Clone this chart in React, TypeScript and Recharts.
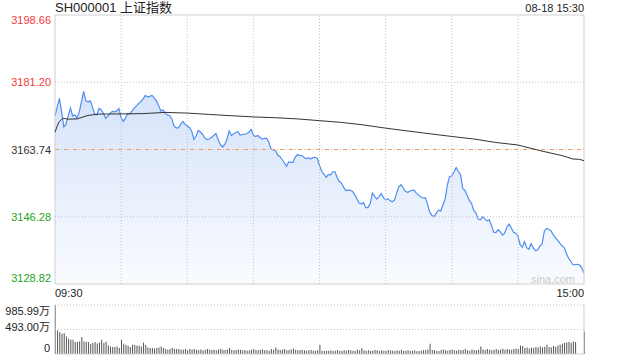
import {
  ComposedChart,
  Area,
  Line,
  Bar,
  XAxis,
  YAxis,
  ReferenceLine,
  ReferenceArea,
} from "recharts"

const PRE_CLOSE = 3163.74
const PRICE_TICKS = [3128.82, 3146.28, 3163.74, 3181.2, 3198.66]
const VOLUME_TICKS = [0, 493.0, 985.99]
const TIME_LABELS = ["09:30", "15:00"]
const GRID_MINUTES = [30, 60, 90, 120, 150, 180, 210]

// one close per minute, 09:30 .. 11:30 / 13:00 .. 15:00
const PRICES = [
  3172.46, 3174.8, 3177.01, 3173.5, 3169.59, 3170.38, 3172.46, 3174.54, 3172.46, 3172.72,
  3171.94, 3173.5, 3176.1, 3178.83, 3176.36, 3176.1, 3176.36, 3174.8, 3172.98, 3172.72,
  3174.41, 3174.02, 3173.11, 3171.81, 3172.46, 3173.11, 3173.63, 3173.5, 3173.76, 3174.41,
  3171.94, 3171.03, 3171.94, 3173.11, 3172.98, 3173.76, 3174.54, 3175.06, 3175.71, 3176.23,
  3176.88, 3177.79, 3177.4, 3177.53, 3177.79, 3177.14, 3176.36, 3175.19, 3173.76, 3174.02,
  3173.11, 3172.72, 3172.59, 3171.68, 3169.85, 3169.33, 3169.33, 3170.25, 3171.03, 3170.25,
  3169.85, 3169.46, 3168.55, 3166.34, 3167.25, 3168.68, 3168.29, 3167.64, 3166.73, 3166.34,
  3166.47, 3166.86, 3167.38, 3167.9, 3166.34, 3165.04, 3164.39, 3165.04, 3166.34, 3168.55,
  3167.38, 3167.77, 3168.16, 3168.42, 3167.51, 3167.64, 3167.72, 3167.82, 3168.29, 3168.94,
  3167.51, 3167.12, 3167.38, 3166.86, 3166.47, 3166.65, 3166.65, 3165.69, 3163.87, 3163.61,
  3163.48, 3162.31, 3161.92, 3161.14, 3160.36, 3159.32, 3160.49, 3160.41, 3160.41, 3161.79,
  3162.44, 3162.18, 3162.18, 3161.66, 3161.4, 3161.58, 3161.27, 3161.63, 3161.71, 3161.45,
  3159.58, 3158.09, 3157.37, 3156.51, 3157.24, 3157.1, 3157.96, 3157.96, 3156.45, 3155.41,
  3155.02, 3153.85, 3153.1, 3153.2, 3153.15, 3152.86, 3152.03, 3150.86, 3149.82, 3149.64,
  3149.95, 3148.65, 3148.65, 3149.69, 3152.42, 3151.56, 3150.86, 3151.51, 3152.34, 3151.25,
  3150.68, 3150.99, 3150.47, 3150.16, 3150.6, 3152.42, 3154.09, 3154.63, 3153.64, 3152.89,
  3152.6, 3152.89, 3153.2, 3153.12, 3152.34, 3151.9, 3151.38, 3151.15, 3151.25, 3149.56,
  3147.48, 3146.62, 3146.31, 3147.22, 3148.05, 3147.74, 3149.38, 3150.86, 3154.5, 3156.69,
  3156.9, 3157.89, 3159.06, 3158.02, 3157.24, 3153.59, 3153.12, 3151.77, 3150.47, 3149.69,
  3147.87, 3147.22, 3145.66, 3145.47, 3146.25, 3145.79, 3145.21, 3145.47, 3144.09, 3142.27,
  3142.14, 3142.92, 3142.4, 3141.49, 3142.01, 3143.57, 3144.36, 3143.44, 3142.27, 3142.01,
  3141.31, 3139.02, 3138.37, 3139.8, 3138.24, 3137.85, 3139.28, 3138.21, 3137.43, 3137.72,
  3138.63, 3139.28, 3142.53, 3143.24, 3143.05, 3142.66, 3141.62, 3140.84, 3140.19, 3139.41,
  3138.76, 3138.27, 3136.73, 3135.51, 3134.73, 3133.82, 3133.87, 3133.95, 3133.74, 3133.04,
  3131.61,
]

// average price line, read at these minutes
const AVG_MINUTES = [
  0, 1, 2, 3, 4, 6, 10, 15, 20, 30, 40, 50, 60, 70, 80, 90, 100, 110, 120, 130, 140, 150,
  160, 170, 180, 190, 200, 210, 220, 230, 235, 238, 240,
]
const AVG_PRICES = [
  3168.22, 3169.85, 3171.03, 3171.55, 3171.81, 3171.6, 3171.68, 3172.59, 3172.93, 3172.98,
  3173.06, 3173.37, 3173.19, 3172.85, 3172.51, 3172.2, 3171.99, 3171.68, 3171.23, 3170.77,
  3170.12, 3169.28, 3168.55, 3167.83, 3167.12, 3166.47, 3165.56, 3164.91, 3163.45, 3162.15,
  3161.27, 3161.19, 3160.83,
]

// volume per minute, in 万
const VOLUMES = [
  985.99, 473, 440, 406, 420, 353, 306, 286, 286, 240,
  240, 253, 340, 253, 246, 240, 200, 220, 240, 213,
  233, 286, 220, 246, 173, 153, 140, 140, 153, 120,
  286, 206, 180, 166, 140, 186, 180, 173, 166, 153,
  233, 180, 133, 120, 120, 113, 120, 133, 153, 120,
  100, 86, 100, 120, 100, 100, 100, 86, 93, 106,
  73, 100, 93, 100, 86, 80, 93, 73, 86, 100,
  93, 80, 86, 73, 93, 106, 86, 80, 93, 120,
  86, 73, 80, 93, 86, 73, 80, 66, 73, 86,
  100, 80, 73, 86, 93, 80, 73, 66, 100, 86,
  133, 93, 80, 86, 100, 73, 80, 93, 113, 86,
  73, 80, 86, 73, 66, 73, 80, 66, 60, 73,
  186, 60, 66, 60, 66, 73, 60, 66, 80, 66,
  60, 73, 66, 80, 73, 66, 60, 93, 73, 120,
  73, 66, 73, 60, 66, 80, 73, 60, 73, 66,
  60, 80, 73, 66, 60, 73, 66, 86, 60, 66,
  73, 60, 66, 73, 53, 60, 66, 73, 80, 93,
  206, 80, 73, 66, 60, 80, 93, 73, 66, 80,
  93, 73, 66, 86, 73, 80, 100, 73, 66, 93,
  80, 73, 86, 153, 93, 80, 100, 86, 73, 86,
  100, 80, 93, 106, 86, 100, 93, 86, 100, 113,
  100, 173, 160, 120, 133, 113, 133, 120, 140, 133,
  153, 133, 146, 186, 140, 133, 160, 146, 173, 186,
  206, 220, 233, 240, 226, 253, 240, 0, 0, 0,
  453,
]

const RED = "#f23a3a"
const GREEN = "#21a521"
const DARK = "#333"
const GRID = "#c4c4c4"
const BORDER = "#cfcfcf"

const rows = PRICES.map((price, m) => {
  const k = AVG_MINUTES.indexOf(m)
  return { m, price, avg: k >= 0 ? AVG_PRICES[k] : null, vol: VOLUMES[m] }
})

const colorFor = (v: number) =>
  v > PRE_CLOSE + 0.001 ? RED : v < PRE_CLOSE - 0.001 ? GREEN : DARK

// top and bottom labels sit inside the plot edge
const edgeShift = (v: number) =>
  v === PRICE_TICKS[PRICE_TICKS.length - 1] ? 5 : v === PRICE_TICKS[0] ? -6 : 0

function PriceTick({ x, y, payload }: any) {
  const v = payload.value as number
  return (
    <text x={x} y={y + edgeShift(v)} textAnchor="end" dominantBaseline="central" fontSize={11} fill={colorFor(v)}>
      {v.toFixed(2)}
    </text>
  )
}

function PctTick({ x, y, payload }: any) {
  const v = payload.value as number
  const pct = (v / PRE_CLOSE - 1) * 100
  const label = (pct > 0.0001 ? "+" : "") + (Math.abs(pct) < 0.0001 ? "0.00" : pct.toFixed(2)) + "%"
  return (
    <text x={x} y={y + edgeShift(v)} textAnchor="start" dominantBaseline="central" fontSize={11} fill={colorFor(v)}>
      {label}
    </text>
  )
}

function TimeTick({ x, y, payload }: any) {
  const first = payload.value === 0
  return (
    <text x={x} y={y + 9} textAnchor={first ? "start" : "end"} dominantBaseline="central" fontSize={11} fill="#222">
      {first ? TIME_LABELS[0] : TIME_LABELS[1]}
    </text>
  )
}

function VolTick({ x, y, payload }: any) {
  const v = payload.value as number
  const dy = v === 0 ? -6.5 : v === VOLUME_TICKS[2] ? 6 : -2
  return (
    <text x={x} y={y + dy} textAnchor="end" dominantBaseline="central" fontSize={11} fill="#222">
      {v === 0 ? "0" : v.toFixed(2) + "万"}
    </text>
  )
}

export default function App() {
  return (
    <div
      style={{
        position: "absolute",
        left: 0,
        top: 0,
        width: 640,
        height: 360,
        background: "#fff",
        fontFamily: "'Liberation Sans', Arial, 'Noto Sans CJK SC', sans-serif",
        color: "#222",
      }}
    >
      <div style={{ position: "absolute", left: 55, top: 0, fontSize: 13, lineHeight: "15px" }}>
        SH000001 上证指数
      </div>
      <div style={{ position: "absolute", right: 56, top: 1, fontSize: 11, lineHeight: "14px" }}>
        08-18 15:30
      </div>

      <div style={{ position: "absolute", left: 0, top: 0 }}>
        <ComposedChart width={640} height={300} data={rows} margin={{ top: 15, right: 0, left: 0, bottom: 0 }}>
          <defs>
            <linearGradient id="priceFill" x1="0" y1="0" x2="0" y2="1">
              <stop offset="0%" stopColor="#d6e3fa" />
              <stop offset="100%" stopColor="#f9fbff" />
            </linearGradient>
          </defs>
          <XAxis
            dataKey="m"
            type="number"
            domain={[0, 240]}
            ticks={[0, 240]}
            height={16}
            axisLine={false}
            tickLine={false}
            tickSize={0}
            tickMargin={0}
            tick={<TimeTick />}
          />
          <YAxis
            domain={[PRICE_TICKS[0], PRICE_TICKS[4]]}
            ticks={PRICE_TICKS}
            interval={0}
            width={55}
            axisLine={false}
            tickLine={false}
            tickSize={0}
            tickMargin={4}
            tick={<PriceTick />}
          />
          <YAxis
            yAxisId="pct"
            orientation="right"
            domain={[PRICE_TICKS[0], PRICE_TICKS[4]]}
            ticks={PRICE_TICKS}
            interval={0}
            width={56}
            axisLine={false}
            tickLine={false}
            tickSize={0}
            tickMargin={6}
            tick={<PctTick />}
          />
          <Area
            type="linear"
            dataKey="price"
            stroke="#4f8ef0"
            strokeWidth={1.2}
            fill="url(#priceFill)"
            fillOpacity={1}
            dot={false}
            activeDot={false}
            isAnimationActive={false}
          />
          {GRID_MINUTES.map((m) => (
            <ReferenceLine key={m} x={m} stroke={GRID} strokeDasharray="1 2" />
          ))}
          <ReferenceLine y={PRICE_TICKS[3]} stroke={GRID} strokeDasharray="1 2" />
          <ReferenceLine y={PRICE_TICKS[1]} stroke={GRID} strokeDasharray="1 2" />
          <ReferenceLine y={PRE_CLOSE} stroke="#bbb" strokeDasharray="1 2" />
          <ReferenceLine y={PRE_CLOSE} stroke="#f39a5c" strokeDasharray="4 5" />
          <ReferenceArea
            x1={0}
            x2={240}
            y1={PRICE_TICKS[0]}
            y2={PRICE_TICKS[4]}
            fill="none"
            stroke={BORDER}
            strokeOpacity={1}
          />
          <Line
            type="linear"
            dataKey="avg"
            stroke="#333"
            strokeWidth={1}
            dot={false}
            activeDot={false}
            connectNulls
            isAnimationActive={false}
          />
        </ComposedChart>
      </div>

      <div
        style={{
          position: "absolute",
          left: 531,
          top: 272,
          fontSize: 11,
          lineHeight: "14px",
          color: "#cacaca",
        }}
      >
        sina.com
      </div>

      <div style={{ position: "absolute", left: 0, top: 300 }}>
        <ComposedChart width={640} height={60} data={rows} margin={{ top: 5, right: 56, left: 0, bottom: 6 }}>
          <XAxis dataKey="m" type="number" domain={[0, 240]} hide />
          <YAxis
            domain={[0, VOLUME_TICKS[2]]}
            ticks={VOLUME_TICKS}
            interval={0}
            width={55}
            axisLine={false}
            tickLine={false}
            tickSize={0}
            tickMargin={5}
            tick={<VolTick />}
          />
          <ReferenceLine y={VOLUME_TICKS[2]} stroke={GRID} strokeDasharray="1 2" />
          <ReferenceLine y={VOLUME_TICKS[1]} stroke={GRID} strokeDasharray="1 2" />
          <ReferenceLine y={0} stroke={BORDER} />
          <ReferenceLine x={0} stroke={BORDER} />
          <ReferenceLine x={240} stroke={BORDER} />
          <Bar dataKey="vol" fill="#555" barSize={1} isAnimationActive={false} />
        </ComposedChart>
      </div>
    </div>
  )
}
